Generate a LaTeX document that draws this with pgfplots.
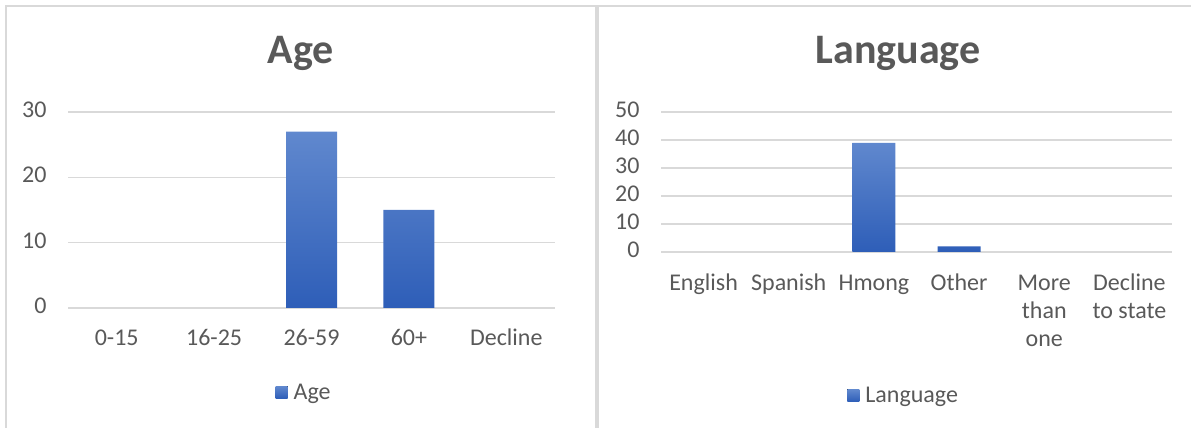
\documentclass[border=0pt]{standalone}
\usepackage{pgfplots}
\pgfplotsset{compat=1.18}
\usepackage{fontspec}
\setmainfont{Carlito}
\definecolor{txt}{HTML}{595959}
\definecolor{gridc}{HTML}{D9D9D9}
\definecolor{bartop}{HTML}{6088CE}
\definecolor{barbot}{HTML}{2E5EB8}

\pgfplotsset{
  excelbar/.style={
    scale only axis,
    axis line style={draw=none},
    tick style={draw=none},
    ymajorgrids=true,
    grid style={color=gridc, line width=1.6pt},
    ymin=0,
    tick label style={font=\fontsize{24}{28}\selectfont, text=txt},
    /pgf/number format/assume math mode=true,
    typeset ticklabels with strut,
    yticklabel style={xshift=-18pt},
    xticklabel style={align=center},
    legend style={draw=none, fill=none, font=\fontsize{24}{28}\selectfont, text=txt,
      legend cell align=left},
    legend image code/.code={
      \fill[top color=bartop, bottom color=barbot] (0pt,-6pt) rectangle (12pt,6pt);
      \path (0pt,0pt) -- (16pt,0pt);},
  },
}

\begin{document}
\begin{tikzpicture}
\begin{axis}[excelbar,
  at={(68pt,120pt)}, anchor=south west,
  width=487pt, height=196pt,
  xmin=-0.5, xmax=4.5, ymax=30,
  ytick={0,10,20,30},
  xtick={0,1,2,3,4},
  xticklabels={0-15,16-25,26-59,60+,Decline},
  xticklabel style={yshift=-14pt},
  legend style={at={(0.485,-0.43)}, anchor=center},
]
\addplot[ybar, bar width=51pt, draw=none, top color=bartop, bottom color=barbot]
  coordinates {(2,27) (3,15)};
\addlegendentry{Age}
\end{axis}

\begin{axis}[excelbar,
  at={(661pt,176pt)}, anchor=south west,
  width=511pt, height=140pt,
  xmin=-0.5, xmax=5.5, ymax=50,
  ytick={0,10,20,30,40,50},
  xtick={0,1,2,3,4,5},
  xticklabels={English,Spanish,Hmong,Other,More\\than\\one,Decline\\to state},
  xticklabel style={yshift=-15pt},
  legend style={at={(0.475,-1.025)}, anchor=center},
]
\addplot[ybar, bar width=43pt, draw=none, top color=bartop, bottom color=barbot]
  coordinates {(2,39) (3,2)};
\addlegendentry{Language}
\end{axis}

% chart frames and titles
\draw[gridc, line width=2pt] (6pt,0pt) -- (6pt,422pt) -- (1191pt,422pt);
\draw[gridc, line width=3.5pt] (597pt,0pt) -- (597pt,422pt);
\node[font=\bfseries\fontsize{42}{48}\selectfont, text=txt] at (301pt,375pt) {Age};
\node[font=\bfseries\fontsize{42}{48}\selectfont, text=txt] at (898pt,375pt) {Language};

\pgfresetboundingbox
\path[use as bounding box] (0pt,0pt) rectangle (1191pt,428pt);
\end{tikzpicture}
\end{document}
